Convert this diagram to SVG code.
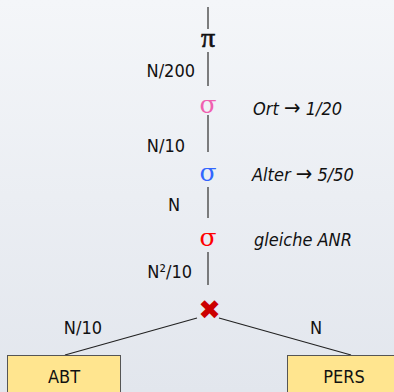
<svg xmlns="http://www.w3.org/2000/svg" width="394" height="392" viewBox="0 0 394 392">
<defs>
<linearGradient id="bg" x1="0" y1="0" x2="0" y2="1">
<stop offset="0" stop-color="#f4f6f9"/>
<stop offset="1" stop-color="#e2e6ed"/>
</linearGradient>
<style>
.lbl{font-family:"DejaVu Sans Condensed","DejaVu Sans","Liberation Sans",sans-serif;font-stretch:condensed;font-size:18px;fill:#111}
.it{font-style:italic}
.ar{font-size:22px;font-style:normal}
.gr{font-family:"DejaVu Serif","Liberation Serif",serif;font-size:25px;text-anchor:middle}
.pi{font-family:"Liberation Serif","Times New Roman",serif;font-size:28px;text-anchor:middle;stroke:#111;stroke-width:0.6}
.vl{stroke:#555;stroke-width:1.5;fill:none}
.dl{stroke:#222;stroke-width:1.2;fill:none}
.box{fill:#ffe58f;stroke:#555;stroke-width:1}
</style>
</defs>
<rect width="394" height="392" fill="url(#bg)"/>
<g id="connectors">
<line class="vl" x1="208" y1="7" x2="208" y2="29"/>
<line class="vl" x1="208" y1="52" x2="208" y2="86"/>
<line class="vl" x1="208" y1="115" x2="208" y2="152"/>
<line class="vl" x1="208" y1="187" x2="208" y2="218"/>
<line class="vl" x1="208" y1="252" x2="208" y2="285"/>
<line class="dl" x1="197" y1="318" x2="65" y2="355"/>
<line class="dl" x1="219" y1="318" x2="351" y2="355"/>
<text class="lbl" x="195" y="77" text-anchor="end">N/200</text>
<text class="lbl" x="185" y="152" text-anchor="end">N/10</text>
<text class="lbl" x="180" y="211" text-anchor="end">N</text>
<text class="lbl" x="192" y="278" text-anchor="end">N²/10</text>
<text class="lbl" x="102" y="334" text-anchor="end">N/10</text>
<text class="lbl" x="322" y="334" text-anchor="end">N</text>
</g>
<g id="pi"><text class="pi" x="208" y="47" fill="#111">π</text></g>
<g id="sigma-ort">
<text class="gr" x="208" y="113" fill="#f060b0">σ</text>
<text class="lbl it" x="253" y="115">Ort <tspan class="ar">→</tspan> 1/20</text>
</g>
<g id="sigma-alter">
<text class="gr" x="208" y="181" fill="#3366ff">σ</text>
<text class="lbl it" x="252" y="181">Alter <tspan class="ar">→</tspan> 5/50</text>
</g>
<g id="sigma-anr">
<text class="gr" x="208" y="246" fill="#ff0000">σ</text>
<text class="lbl it" x="254" y="246">gleiche ANR</text>
</g>
<g id="join"><text x="209.5" y="319" text-anchor="middle" font-family="DejaVu Sans,sans-serif" font-size="27" fill="#cc0000">✖</text></g>
<g id="abt">
<rect class="box" x="7.5" y="355.5" width="113" height="40"/>
<text class="lbl" x="64" y="383" text-anchor="middle">ABT</text>
</g>
<g id="pers">
<rect class="box" x="287.5" y="355.5" width="113" height="40"/>
<text class="lbl" x="344" y="383" text-anchor="middle">PERS</text>
</g>
</svg>
